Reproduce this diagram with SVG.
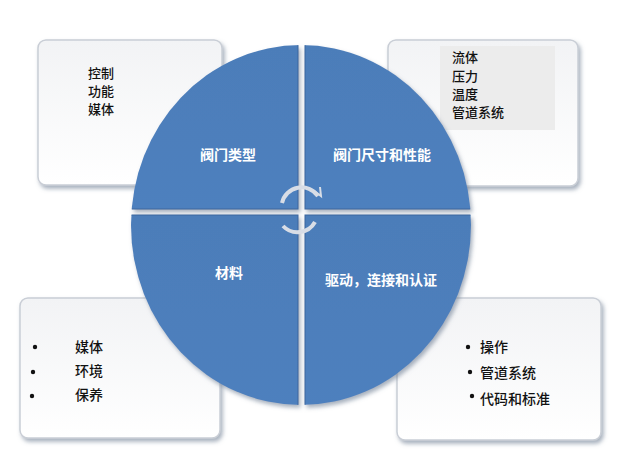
<svg xmlns="http://www.w3.org/2000/svg" width="620" height="458" viewBox="0 0 620 458">
<defs>
<style>
.box{fill:url(#bg);stroke:#c9ced6;stroke-width:1.5}
.t{font-family:"Noto Sans CJK SC","Noto Sans",sans-serif;font-size:13px;font-weight:500;fill:#111}
.b{font-family:"Noto Sans CJK SC","Noto Sans",sans-serif;font-size:14px;font-weight:bold;fill:#fff;text-anchor:middle}
.q{fill:url(#bl);stroke:#3b679e;stroke-width:1}
</style>
<linearGradient id="bg" x1="0" y1="0" x2="0" y2="1"><stop offset="0" stop-color="#f2f3f5"/><stop offset="1" stop-color="#fff"/></linearGradient>
<linearGradient id="bl" x1="0" y1="0" x2="0" y2="1"><stop offset="0" stop-color="#4c7db9"/><stop offset="1" stop-color="#4e80be"/></linearGradient>
<filter id="sh" x="-10%" y="-10%" width="125%" height="125%"><feDropShadow dx="2" dy="3" stdDeviation="2" flood-color="#6c7b92" flood-opacity="0.6"/></filter>
<clipPath id="ec"><ellipse cx="301" cy="225" rx="170" ry="180"/></clipPath>
</defs>
<rect width="620" height="458" fill="#fff"/>
<g id="box-tl"><rect class="box" x="38" y="40" width="184" height="145" rx="8" filter="url(#sh)"/>
<text class="t" x="88" y="78">控制</text><text class="t" x="88" y="96">功能</text><text class="t" x="88" y="114">媒体</text></g>
<g id="box-tr"><rect class="box" x="388" y="40" width="190" height="146" rx="8" filter="url(#sh)"/>
<rect x="440" y="46" width="115" height="84" fill="#ececec"/>
<text class="t" x="452" y="62">流体</text><text class="t" x="452" y="81">压力</text><text class="t" x="452" y="99">温度</text><text class="t" x="452" y="117">管道系统</text></g>
<g id="box-bl"><rect class="box" x="20" y="298" width="200" height="140" rx="8" filter="url(#sh)"/>
<circle cx="35" cy="347" r="2.2" fill="#111"/><circle cx="33" cy="372" r="2.2" fill="#111"/><circle cx="32" cy="396" r="2.2" fill="#111"/>
<text class="t" style="font-size:14px" x="75" y="352">媒体</text><text class="t" style="font-size:14px" x="75" y="376">环境</text><text class="t" style="font-size:14px" x="75" y="400">保养</text></g>
<g id="box-br"><rect class="box" x="397" y="298" width="204" height="142" rx="8" filter="url(#sh)"/>
<circle cx="468" cy="347" r="2.2" fill="#111"/><circle cx="470" cy="372" r="2.2" fill="#111"/><circle cx="472" cy="396" r="2.2" fill="#111"/>
<text class="t" style="font-size:14px" x="480" y="352">操作</text><text class="t" style="font-size:14px" x="480" y="378">管道系统</text><text class="t" style="font-size:14px" x="480" y="404">代码和标准</text></g>
<g id="circle" filter="url(#sh)">
<g clip-path="url(#ec)">
<rect class="q" x="120" y="40" width="178" height="169"/>
<rect class="q" x="305" y="40" width="180" height="169"/>
<rect class="q" x="120" y="215" width="178" height="200"/>
<rect class="q" x="305" y="215" width="180" height="200"/>
</g>
</g>
<g id="labels">
<text class="b" x="228" y="160">阀门类型</text>
<text class="b" x="382" y="160">阀门尺寸和性能</text>
<text class="b" x="229" y="278">材料</text>
<text class="b" x="381" y="285">驱动，连接和认证</text>
</g>
<g id="connectors" fill="none" stroke="#d8dde6" stroke-width="4">
<path d="M282 203 A20 20 0 0 1 318 196"/>
<path d="M315 222 A20 20 0 0 1 283 226"/>
<path d="M313 190 l8 6 l-1 -9" stroke-width="2"/>
</g>
</svg>
